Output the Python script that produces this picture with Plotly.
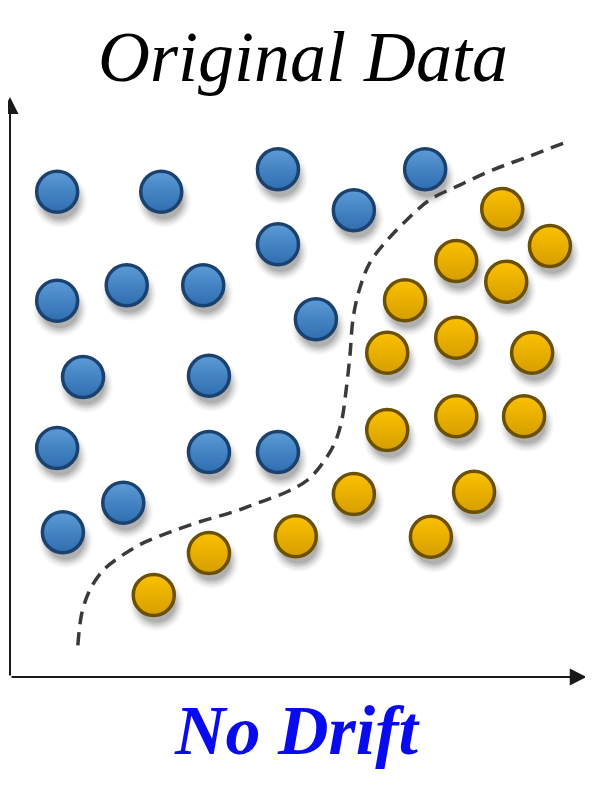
import plotly.graph_objects as go

# class A (blue) points
blue_x = [0.82, 2.63, 4.66, 7.22, 5.98, 4.66, 0.82, 2.03, 3.36, 5.32, 1.27, 3.46, 0.82, 3.46, 4.66, 1.97, 0.92]
blue_y = [8.41, 8.41, 8.80, 8.80, 8.09, 7.50, 6.52, 6.79, 6.79, 6.20, 5.20, 5.22, 3.97, 3.90, 3.90, 3.02, 2.51]

# class B (orange) points
orange_x = [8.56, 9.39, 7.76, 8.63, 6.87, 6.56, 7.76, 9.08, 6.56, 7.76, 8.94, 8.07, 5.98, 4.97, 7.32, 3.46, 2.50]
orange_y = [8.11, 7.47, 7.21, 6.85, 6.53, 5.62, 5.88, 5.62, 4.28, 4.52, 4.52, 3.21, 3.17, 2.44, 2.43, 2.15, 1.42]

# decision boundary
boundary_x = [1.18, 1.25, 1.39, 1.62, 1.91, 2.31, 2.78, 3.30, 3.88, 4.35, 4.82, 5.17, 5.44, 5.65,
              5.77, 5.83, 5.91, 5.97, 6.09, 6.26, 6.56, 6.90, 7.30, 7.83, 8.40, 8.99, 9.62]
boundary_y = [0.55, 1.11, 1.51, 1.85, 2.08, 2.32, 2.51, 2.69, 2.86, 3.03, 3.21, 3.41, 3.71, 4.06,
              4.45, 4.85, 5.55, 6.24, 6.76, 7.18, 7.57, 7.92, 8.27, 8.53, 8.79, 9.01, 9.25]

title_text = "Original Data"
subtitle_text = "No Drift"

fig = go.Figure()

# soft drop shadows (layered translucent markers)
shadow_dx, shadow_dy = 0.05, -0.15
for xs, ys in [(blue_x, blue_y), (orange_x, orange_y)]:
    for size, alpha in [(54, 0.03), (50, 0.05), (46, 0.07), (42, 0.09), (38, 0.1)]:
        fig.add_trace(go.Scatter(
            x=[v + shadow_dx for v in xs],
            y=[v + shadow_dy for v in ys],
            mode="markers",
            marker=dict(size=size, color=f"rgba(0,0,0,{alpha})", line=dict(width=0)),
            hoverinfo="skip",
            showlegend=False,
            cliponaxis=False,
        ))

fig.add_trace(go.Scatter(
    x=boundary_x, y=boundary_y,
    mode="lines",
    line=dict(color="#3a3a3a", width=3.5, dash="13px,8px", shape="spline", smoothing=1.0),
    showlegend=False,
    hoverinfo="skip",
))

fig.add_trace(go.Scatter(
    x=blue_x, y=blue_y,
    mode="markers",
    marker=dict(
        size=41, color="#5b9bd6",
        gradient=dict(type="vertical", color="#2f6db0"),
        line=dict(color="#1b426e", width=3.5),
    ),
    showlegend=False,
    cliponaxis=False,
))

fig.add_trace(go.Scatter(
    x=orange_x, y=orange_y,
    mode="markers",
    marker=dict(
        size=41, color="#fbc100",
        gradient=dict(type="vertical", color="#d69e00"),
        line=dict(color="#6a5000", width=3.5),
    ),
    showlegend=False,
    cliponaxis=False,
))

# axis arrows
arrow = dict(text="", showarrow=True, arrowhead=2, arrowsize=1.7, arrowwidth=2,
             arrowcolor="#1a1a1a", standoff=0, xref="x", yref="y", axref="x", ayref="y")
fig.add_annotation(x=0, y=10.05, ax=0, ay=0, **arrow)
fig.add_annotation(x=10.03, y=0, ax=0, ay=0, **arrow)

fig.add_annotation(
    x=0.51, y=1.075, xref="paper", yref="paper", showarrow=False,
    text=title_text, xanchor="center", yanchor="middle",
    font=dict(family="Liberation Serif", size=72, color="#000000", style="italic"),
)
fig.add_annotation(
    x=0.5, y=-0.093, xref="paper", yref="paper", showarrow=False,
    text=f"<b>{subtitle_text}</b>", xanchor="center", yanchor="middle",
    font=dict(family="Liberation Serif", size=70, color="#0a0aee", style="italic"),
)

fig.update_xaxes(range=[0, 10], visible=False)
fig.update_yaxes(range=[0, 10], visible=False)
fig.update_layout(
    width=593, height=805,
    margin=dict(l=2, r=16, t=92, b=136),
    plot_bgcolor="white", paper_bgcolor="white",
)

fig.write_html("out.html")
